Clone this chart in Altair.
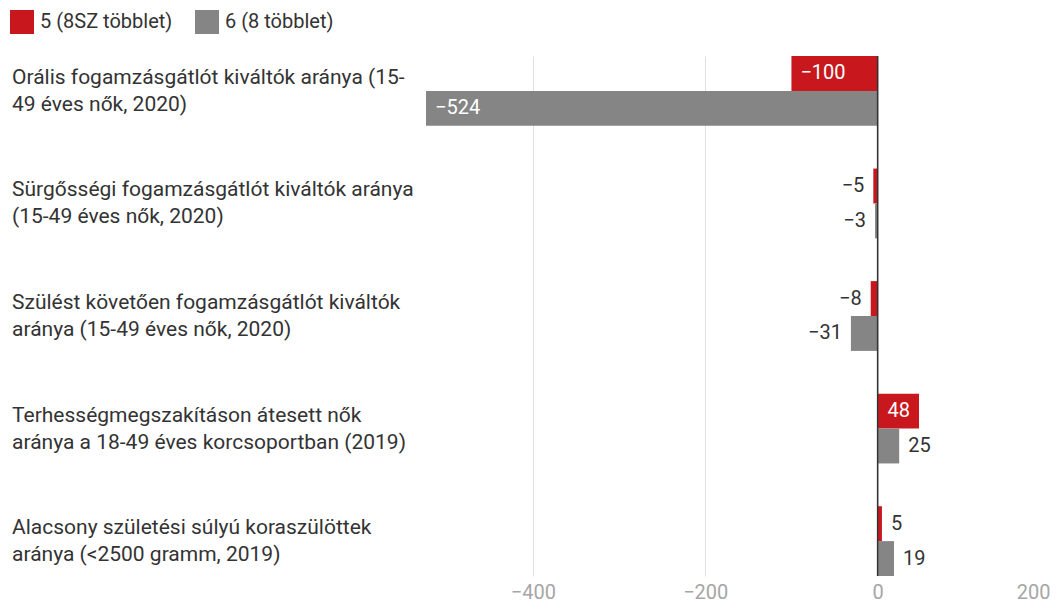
import altair as alt
import pandas as pd

categories = [
    "Orális fogamzásgátlót kiváltók aránya (15-\n49 éves nők, 2020)",
    "Sürgősségi fogamzásgátlót kiváltók aránya\n(15-49 éves nők, 2020)",
    "Szülést követően fogamzásgátlót kiváltók\naránya (15-49 éves nők, 2020)",
    "Terhességmegszakításon átesett nők\naránya a 18-49 éves korcsoportban (2019)",
    "Alacsony születési súlyú koraszülöttek\naránya (<2500 gramm, 2019)",
]
series = ["5 (8SZ többlet)", "6 (8 többlet)"]
values_5 = [-100, -5, -8, 48, 5]
values_6 = [-524, -3, -31, 25, 19]

rows = []
for c, a, b in zip(categories, values_5, values_6):
    rows.append({"cat": c, "series": series[0], "value": a})
    rows.append({"cat": c, "series": series[1], "value": b})
df = pd.DataFrame(rows)
df["inside"] = df["value"].abs() > 40
cat_df = pd.DataFrame({"cat": categories})

FONT = "Roboto"
RED = "#c8181d"
GRAY = "#858585"

y_enc = alt.Y("cat:N", sort=categories, axis=None,
              scale=alt.Scale(paddingInner=0.38, paddingOuter=0))
yoff = alt.YOffset("series:N", sort=series,
                   scale=alt.Scale(paddingInner=0, paddingOuter=0))
x_enc = alt.X("value:Q", scale=alt.Scale(domain=[-524, 200], nice=False, zero=False),
              axis=alt.Axis(values=[-400, -200, 0, 200], title=None, grid=True,
                            gridColor="#e0e0e0", domain=False, ticks=False,
                            labelColor="#a6a6a6", labelFontSize=20, labelFont=FONT,
                            labelPadding=6, labelFlush=True))

bars = alt.Chart(df).mark_bar().encode(
    x=x_enc,
    y=y_enc,
    yOffset=yoff,
    color=alt.Color("series:N", sort=series,
                    scale=alt.Scale(domain=series, range=[RED, GRAY]),
                    legend=alt.Legend(title=None, orient="none", legendX=-416, legendY=-46,
                                      direction="horizontal", symbolType="square",
                                      symbolSize=576, symbolStrokeWidth=0,
                                      labelFontSize=20, labelFont=FONT, labelColor="#333",
                                      columnPadding=22, labelOffset=6)),
)

def lab(filter_expr, align, dx, color):
    return alt.Chart(df).transform_filter(filter_expr).mark_text(
        align=align, baseline="middle", dx=dx, fontSize=20, font=FONT, color=color
    ).encode(
        x="value:Q",
        y=alt.Y("cat:N", sort=categories),
        yOffset=alt.YOffset("series:N", sort=series),
        text=alt.Text("value:Q", format="d"),
    )

lab1 = lab("datum.inside && datum.value < 0", "left", 9, "white")
lab2 = lab("datum.inside && datum.value > 0", "right", -9, "white")
lab3 = lab("!datum.inside && datum.value < 0", "right", -9, "#333")
lab4 = lab("!datum.inside && datum.value > 0", "left", 9, "#333")

zero = alt.Chart(pd.DataFrame({"v": [0]})).mark_rule(color="#333", strokeWidth=1.5).encode(
    x="v:Q"
)

cat_text = alt.Chart(cat_df).mark_text(
    align="left", baseline="middle", lineBreak="\n", fontSize=21, font=FONT,
    color="#333", lineHeight=27, dy=-13
).encode(
    x=alt.value(-414),
    y=alt.Y("cat:N", sort=categories),
    text="cat:N",
)

chart = alt.layer(bars, zero, lab1, lab2, lab3, lab4, cat_text).properties(
    width=624, height=520,
    padding={"left": 418, "top": 48, "right": 0, "bottom": 31},
    autosize=alt.AutoSizeParams(type="none"),
).configure_view(stroke=None)

chart.save("out.html", embed_options={"renderer": "svg", "actions": False})
